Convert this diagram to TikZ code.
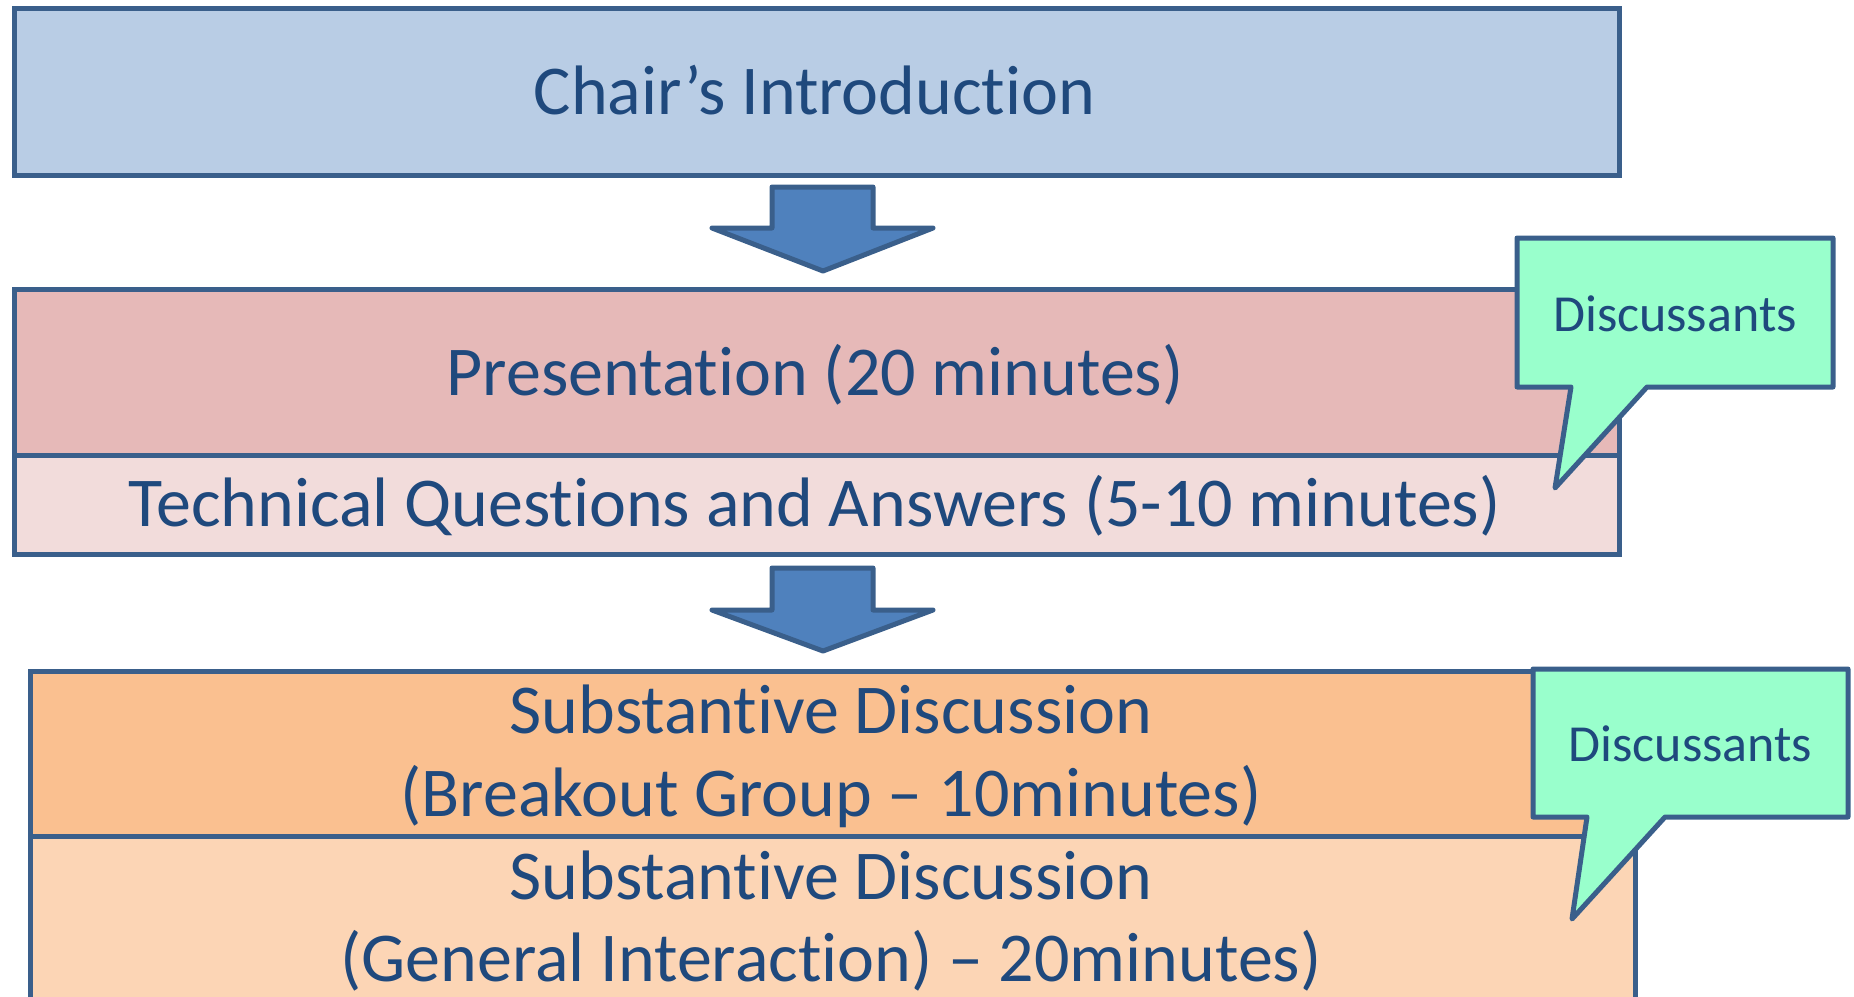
\documentclass[tikz,border=0pt]{standalone}
\usepackage{fontspec}
\setmainfont[Ligatures={NoCommon}]{Carlito}
\newcommand{\noti}{t\kern0pt i}
\definecolor{edge}{HTML}{3A5F8B}
\definecolor{txt}{HTML}{1F497D}
\definecolor{chairfill}{HTML}{B9CDE5}
\definecolor{presfill}{HTML}{E6B9B8}
\definecolor{techfill}{HTML}{F2DCDB}
\definecolor{brkfill}{HTML}{FAC090}
\definecolor{genfill}{HTML}{FCD5B5}
\definecolor{calfill}{HTML}{99FFCC}
\definecolor{arrfill}{HTML}{4F81BD}
\begin{document}
\begin{tikzpicture}[x=1pt,y=-1pt,
  box/.style={draw=edge, line width=5pt, rectangle, inner sep=0pt, anchor=north west},
  big/.style={text=txt, font=\fontsize{70}{83}\selectfont, anchor=base, align=center, inner sep=0pt},
  small/.style={text=txt, font=\fontsize{52}{62}\selectfont, anchor=base, inner sep=0pt},
  flowarrow/.style={draw=edge, fill=arrfill, line width=5pt, line join=round},
  callout/.style={draw=edge, fill=calfill, line width=5pt, line join=round}]
\path[use as bounding box, clip] (0,0) rectangle (1854,996);
% Chair
\node[box, fill=chairfill, minimum width=1605pt, minimum height=167pt] (chair) at (12,6) {};
\node[big] (chairt) at (814.5,114) {Chair’s Introduction};
% arrow 1
\coordinate (a1) at (823,187);
\draw[flowarrow] (a1) ++(-51,0) -- ++(101,0) -- ++(0,41) -- ++(60,0) -- (823,271) -- (712,228) -- (772,228) -- cycle;
% Presentation and technical questions
\node[box, fill=presfill, minimum width=1605pt, minimum height=166pt] (pres) at (12,287) {};
\node[big] (prest) at (815,395) {Presenta\noti on (20 minutes)};
\node[box, fill=techfill, minimum width=1605pt, minimum height=99pt] (tech) at (12,453) {};
\node[big] (techt) at (814.5,526) {Technical Questions and Answers (5-10 minutes)};
% callout 1
\draw[callout] (1517,238) -- (1833,238) -- (1833,387) -- (1647,387) -- (1555,488) -- (1571,387) -- (1517,387) -- cycle;
\node[small] (disc1) at (1675,331) {Discussants};
% arrow 2
\coordinate (a2) at (823,568);
\draw[flowarrow] (a2) ++(-51,0) -- ++(101,0) -- ++(0,42) -- ++(60,0) -- (823,651) -- (712,610) -- (772,610) -- cycle;
% Substantive discussion boxes
\node[box, fill=brkfill, minimum width=1605pt, minimum height=165pt] (brk) at (28,669) {};
\node[big] (brkt1) at (831,733) {Substan\noti ve Discussion};
\node[big] (brkt2) at (831,816) {(Breakout Group – 10minutes)};
\node[box, fill=genfill, minimum width=1605pt, minimum height=170pt] (gen) at (28,834) {};
\node[big] (gent1) at (831,899) {Substan\noti ve Discussion};
\node[big] (gent2) at (831,981) {(General Interac\noti on) – 20minutes)};
% callout 2
\draw[callout] (1533,669) -- (1848,669) -- (1848,817) -- (1665,817) -- (1572,919) -- (1587,817) -- (1533,817) -- cycle;
\node[small] (disc2) at (1690.5,761) {Discussants};
\end{tikzpicture}
\end{document}
